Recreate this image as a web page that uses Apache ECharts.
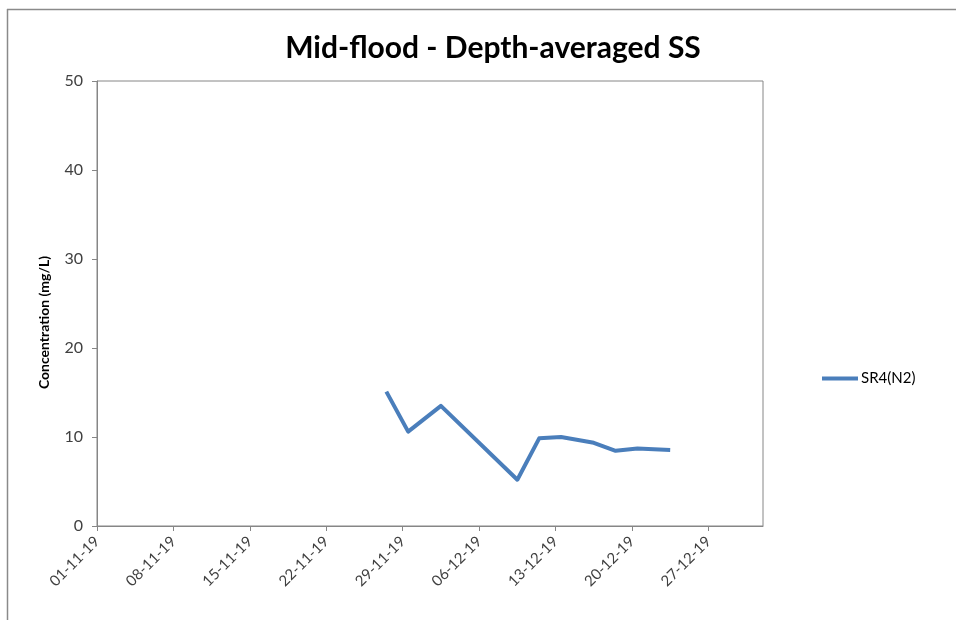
<!DOCTYPE html>
<html>
<head>
<meta charset="utf-8">
<script src="https://cdn.jsdelivr.net/npm/echarts@6/dist/echarts.min.js"></script>
<style>
html,body{margin:0;padding:0;background:#fff;}
#chart{width:956px;height:620px;}
</style>
</head>
<body>
<div id="chart"></div>
<script>
// ---- data ----
var seriesName = 'SR4(N2)';
var sampleDates = ['27-11-19','29-11-19','02-12-19','09-12-19','11-12-19','13-12-19','16-12-19','18-12-19','20-12-19','23-12-19'];
var concentrations = [15.1, 10.6, 13.5, 5.2, 9.85, 10.0, 9.35, 8.45, 8.7, 8.55];
var xTickLabels = ['01-11-19','08-11-19','15-11-19','22-11-19','29-11-19','06-12-19','13-12-19','20-12-19','27-12-19'];
var yTicks = [0, 10, 20, 30, 40, 50];
var axisStart = '01-11-19';
var axisEnd = '01-01-20';

// ---- helpers ----
function parseD(s){
  var p = s.split('-');
  return Date.UTC(2000 + (+p[2]), (+p[1]) - 1, +p[0]);
}
var DAY = 86400000;
var t0 = parseD(axisStart);
function dayOffset(s){ return Math.round((parseD(s) - t0) / DAY); }
var xMax = dayOffset(axisEnd);
var tickPos = xTickLabels.map(dayOffset);
var labelMap = {};
xTickLabels.forEach(function(l){ labelMap[dayOffset(l)] = l; });
// points sit in the middle of their day (date axis, between tick marks)
var seriesData = sampleDates.map(function(d, i){ return [dayOffset(d) + 0.5, concentrations[i]]; });

var FONT = 'Lato, "Open Sans", "Liberation Sans", sans-serif';
var chart = echarts.init(document.getElementById('chart'), null, {renderer:'canvas'});
chart.setOption({
  backgroundColor: '#fff',
  animation: false,
  textStyle: {fontFamily: FONT},
  title: {
    text: 'Mid-flood - Depth-averaged SS',
    left: 488, top: 28, textAlign: 'center',
    textStyle: {fontFamily: FONT, fontSize: 30, fontWeight: 'bold', color: '#000'}
  },
  legend: {
    left: 817, top: 366,
    itemWidth: 36, itemHeight: 14, itemGap: 4,
    textStyle: {fontFamily: FONT, fontSize: 15, color: '#000', padding: [0, 0, 0, -2]},
    data: [{name: seriesName, icon: 'path://M0,0 L36,0 L36,4 L0,4 Z'}]
  },
  grid: {
    left: 97, top: 81, width: 666, height: 445,
    show: true, borderColor: '#868686', borderWidth: 1, containLabel: false
  },
  xAxis: {
    type: 'value', min: 0, max: xMax,
    splitLine: {show: false},
    axisLine: {show: true, lineStyle: {color: '#868686', width: 1}},
    axisTick: {show: true, length: 5, inside: false, customValues: tickPos, lineStyle: {color: '#868686'}},
    axisLabel: {
      customValues: tickPos, rotate: 45, margin: 13,
      fontFamily: FONT, fontSize: 15, color: '#404040',
      formatter: function(v){ return labelMap[v] || ''; }
    }
  },
  yAxis: {
    type: 'value', min: 0, max: 50, interval: 10,
    name: 'Concentration (mg/L)', nameLocation: 'middle', nameGap: 46, nameRotate: 90,
    nameTextStyle: {fontFamily: FONT, fontSize: 14, fontWeight: 'bold', color: '#000', padding: [0, 38, 0, 0]},
    splitLine: {show: false},
    axisLine: {show: true, lineStyle: {color: '#868686', width: 1}},
    axisTick: {show: true, length: 5, inside: false, customValues: yTicks, lineStyle: {color: '#868686'}},
    axisLabel: {customValues: yTicks, margin: 14, fontFamily: FONT, fontSize: 16, color: '#404040'}
  },
  series: [{
    name: seriesName, type: 'line', data: seriesData,
    symbol: 'none', showSymbol: false,
    lineStyle: {color: '#4A7EBB', width: 4, join: 'round'},
    itemStyle: {color: '#4A7EBB'}
  }],
  graphic: [
    {type: 'line', shape: {x1: 7, y1: 9.5, x2: 956, y2: 9.5}, style: {stroke: '#8a8a8a', lineWidth: 1.5}, silent: true},
    {type: 'line', shape: {x1: 7.5, y1: 9, x2: 7.5, y2: 620}, style: {stroke: '#8a8a8a', lineWidth: 1.5}, silent: true}
  ]
});
</script>
</body>
</html>
